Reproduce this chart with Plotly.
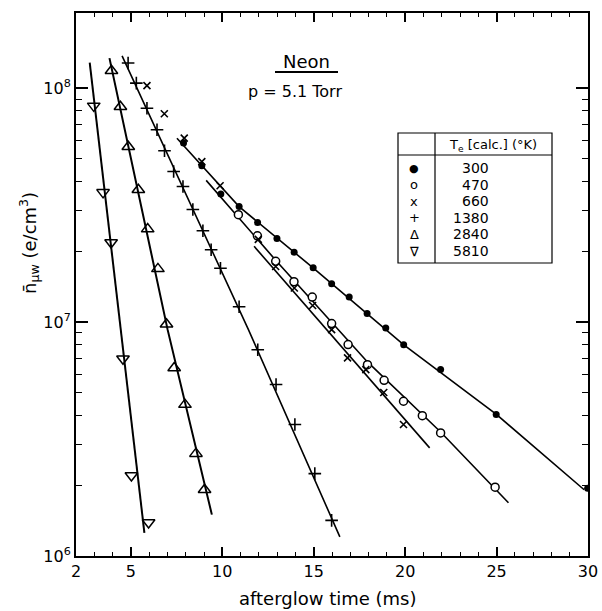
import plotly.graph_objects as go

# ---------------- data ----------------
# Te = 300 K (filled circles)
t_300 = [7.88, 8.88, 9.92, 10.92, 11.93, 12.99, 13.93, 14.97, 15.98, 16.94, 17.92, 18.94, 19.92, 21.94, 24.98, 29.98]
n_300 = [5.83e7, 4.66e7, 3.53e7, 3.12e7, 2.67e7, 2.28e7, 1.99e7, 1.71e7, 1.46e7, 1.28e7, 1.09e7, 9.44e6, 8.00e6, 6.27e6, 4.03e6, 1.95e6]
fit_t_300 = [7.52, 10.92, 14.95, 19.91, 24.99, 29.79]
fit_n_300 = [6.12e7, 3.12e7, 1.71e7, 8.02e6, 4.03e6, 1.92e6]

# Te = 470 K (open circles)
t_470 = [10.88, 11.92, 12.92, 13.92, 14.92, 15.98, 16.88, 17.94, 18.85, 19.91, 20.94, 21.94, 24.92]
n_470 = [2.88e7, 2.34e7, 1.82e7, 1.49e7, 1.28e7, 9.86e6, 8.02e6, 6.58e6, 5.64e6, 4.59e6, 3.98e6, 3.36e6, 1.97e6]
fit_t_470 = [9.12, 12.92, 17.94, 21.94, 25.65]
fit_n_470 = [4.04e7, 1.84e7, 6.76e6, 3.39e6, 1.69e6]

# Te = 660 K (x)
t_660 = [5.88, 6.83, 7.92, 8.88, 9.88, 11.97, 12.92, 13.94, 14.94, 15.98, 16.85, 17.85, 18.83, 19.91]
n_660 = [1.026e8, 7.78e7, 6.12e7, 4.86e7, 3.83e7, 2.26e7, 1.73e7, 1.40e7, 1.178e7, 9.29e6, 7.03e6, 6.27e6, 5.00e6, 3.65e6]
fit_t_660 = [11.74, 21.34]
fit_n_660 = [2.11e7, 2.90e6]

# Te = 1380 K (+)
t_1380 = [4.85, 5.30, 5.88, 6.43, 6.84, 7.34, 7.85, 8.39, 8.94, 9.39, 9.90, 10.92, 11.94, 12.94, 13.97, 15.06, 15.98]
n_1380 = [1.282e8, 1.052e8, 8.22e7, 6.65e7, 5.41e7, 4.41e7, 3.80e7, 3.03e7, 2.46e7, 2.04e7, 1.70e7, 1.164e7, 7.62e6, 5.41e6, 3.65e6, 2.25e6, 1.42e6]
fit_t_1380 = [4.52, 11.43, 16.43]
fit_n_1380 = [1.377e8, 9.29e6, 1.208e6]

# Te = 2840 K (triangle up)
t_2840 = [3.94, 4.43, 4.86, 5.41, 5.92, 6.48, 6.95, 7.37, 7.96, 8.56, 9.03]
n_2840 = [1.189e8, 8.34e7, 5.62e7, 3.68e7, 2.50e7, 1.69e7, 9.79e6, 6.37e6, 4.44e6, 2.74e6, 1.92e6]
fit_t_2840 = [3.83, 7.01, 9.43]
fit_n_2840 = [1.346e8, 9.29e6, 1.503e6]

# Te = 5810 K (triangle down)
t_5810 = [2.97, 3.48, 3.92, 4.57, 5.03, 5.97]
n_5810 = [8.41e7, 3.59e7, 2.19e7, 6.97e6, 2.21e6, 1.39e6]
fit_t_5810 = [2.75, 4.47, 5.74]
fit_n_5810 = [1.288e8, 9.29e6, 1.256e6]

legend_temps = ["300", "470", "660", "1380", "2840", "5810"]
legend_syms = ["\u25cf", "o", "x", "+", "\u0394", "\u2207"]

x_tickvals = [2, 5, 10, 15, 20, 25, 30]
y_tickvals = [1e6, 1e7, 1e8]
y_ticktext = ["10<sup>6</sup>", "10<sup>7</sup>", "10<sup>8</sup>"]

FONT = "DejaVu Sans"
BLACK = "black"

fig = go.Figure()

def add_fit(tt, nn, w=1.6):
    fig.add_trace(go.Scatter(x=tt, y=nn, mode="lines", line=dict(color=BLACK, width=w),
                             showlegend=False, hoverinfo="skip"))

def add_pts(tt, nn, symbol, size, lw=1.5):
    fig.add_trace(go.Scatter(x=tt, y=nn, mode="markers",
                             marker=dict(symbol=symbol, size=size, color=BLACK,
                                         line=dict(color=BLACK, width=lw)),
                             showlegend=False))

add_fit(fit_t_300, fit_n_300)
add_fit(fit_t_470, fit_n_470)
add_fit(fit_t_660, fit_n_660)
add_fit(fit_t_1380, fit_n_1380)
add_fit(fit_t_2840, fit_n_2840, 2)
add_fit(fit_t_5810, fit_n_5810, 2)

add_pts(t_300, n_300, "circle", 7, 0)
fig.add_trace(go.Scatter(x=t_470, y=n_470, mode="markers",
                         marker=dict(symbol="circle", size=8, color="white",
                                     line=dict(color=BLACK, width=1.5)),
                         showlegend=False))
add_pts(t_660, n_660, "x-thin-open", 7, 1.6)
add_pts(t_1380, n_1380, "cross-thin-open", 9, 1.6)
add_pts(t_2840, n_2840, "triangle-up-open", 11, 1.5)
add_pts(t_5810, n_5810, "triangle-down-open", 11, 1.5)

x_minor = [v for v in range(3, 30) if v % 5 != 0]
y_minor = [k * 10 ** d for d in (6, 7) for k in range(2, 10)]

fig.update_xaxes(range=[2, 30], tickmode="array", tickvals=x_tickvals,
                 ticks="inside", ticklen=9, tickwidth=1.5, tickcolor=BLACK,
                 showline=True, linewidth=2, linecolor=BLACK, mirror="ticks",
                 showgrid=False, zeroline=False, automargin=False,
                 tickfont=dict(family=FONT, size=16, color=BLACK),
                 minor=dict(tickvals=x_minor, ticks="inside", ticklen=4,
                            tickwidth=1.2, tickcolor=BLACK, showgrid=False))
fig.update_yaxes(type="log", range=[6, 8.322], tickmode="array",
                 tickvals=y_tickvals, ticktext=y_ticktext,
                 ticks="inside", ticklen=12, tickwidth=1.5, tickcolor=BLACK,
                 showline=True, linewidth=2, linecolor=BLACK, mirror="ticks",
                 showgrid=False, zeroline=False, automargin=False,
                 tickfont=dict(family=FONT, size=16, color=BLACK),
                 minor=dict(tickvals=y_minor, ticks="inside", ticklen=6,
                            tickwidth=1.2, tickcolor=BLACK, showgrid=False))

# page-pixel layout of the reference: plot spans x 76..588, y 13..556
W, H = 602, 611
X0, X1, Y0, Y1 = 76, 588, 13, 556
L, R, T, B = X0, W - X1, Y0, H - Y1
pw, ph = X1 - X0, Y1 - Y0

def px(x):
    return (x - X0) / pw

def py(y):
    return (Y1 - y) / ph

annotations = []
# axis titles
annotations.append(dict(text="afterglow time (ms)", xref="paper", yref="paper",
                        x=px(328), y=py(598), xanchor="center", yanchor="middle",
                        showarrow=False, font=dict(family=FONT, size=18, color=BLACK)))
annotations.append(dict(text="n\u0304<sub>\u03bcw</sub> (e/cm<sup>3</sup>)", xref="paper", yref="paper",
                        x=px(29), y=py(243), xanchor="center", yanchor="middle", textangle=-90,
                        showarrow=False, font=dict(family=FONT, size=18, color=BLACK)))
# title block
annotations.append(dict(text="Neon", xref="paper", yref="paper", x=px(306), y=py(61),
                        xanchor="center", yanchor="middle", showarrow=False,
                        font=dict(family=FONT, size=18, color=BLACK)))
annotations.append(dict(text="p = 5.1 Torr", xref="paper", yref="paper", x=px(295), y=py(92),
                        xanchor="center", yanchor="middle", showarrow=False,
                        font=dict(family=FONT, size=16, color=BLACK)))
# legend table
annotations.append(dict(text="T<sub>e</sub> [calc.] (\u00b0K)", xref="paper", yref="paper",
                        x=px(493), y=py(145), xanchor="center", yanchor="middle", showarrow=False,
                        font=dict(family=FONT, size=13, color=BLACK)))
row_y0, row_dy = 168, 16.6
for i, (sym, temp) in enumerate(zip(legend_syms, legend_temps)):
    yy = row_y0 + i * row_dy
    annotations.append(dict(text=sym, xref="paper", yref="paper", x=px(414), y=py(yy),
                            xanchor="center", yanchor="middle", showarrow=False,
                            font=dict(family=FONT, size=11 if i == 0 else 13, color=BLACK)))
    annotations.append(dict(text=temp, xref="paper", yref="paper", x=px(491), y=py(yy),
                            xanchor="right", yanchor="middle", showarrow=False,
                            font=dict(family=FONT, size=14, color=BLACK)))

shapes = [
    dict(type="line", xref="paper", yref="paper", x0=px(275), x1=px(338), y0=py(72), y1=py(72),
         line=dict(color=BLACK, width=2)),
    dict(type="rect", xref="paper", yref="paper", x0=px(398), x1=px(552), y0=py(263), y1=py(133),
         line=dict(color=BLACK, width=1.2)),
    dict(type="line", xref="paper", yref="paper", x0=px(435), x1=px(435), y0=py(263), y1=py(133),
         line=dict(color=BLACK, width=1.2)),
    dict(type="line", xref="paper", yref="paper", x0=px(398), x1=px(552), y0=py(155), y1=py(155),
         line=dict(color=BLACK, width=1.2)),
]

fig.update_layout(width=W, height=H, autosize=False, margin=dict(l=L, r=R, t=T, b=B),
                  plot_bgcolor="white", paper_bgcolor="white",
                  font=dict(family=FONT, color=BLACK),
                  annotations=annotations, shapes=shapes, showlegend=False)

fig.write_html("out.html",
               config={"displayModeBar": False, "responsive": False},
               post_script="document.body.style.margin='0';document.body.style.overflow='hidden';")
